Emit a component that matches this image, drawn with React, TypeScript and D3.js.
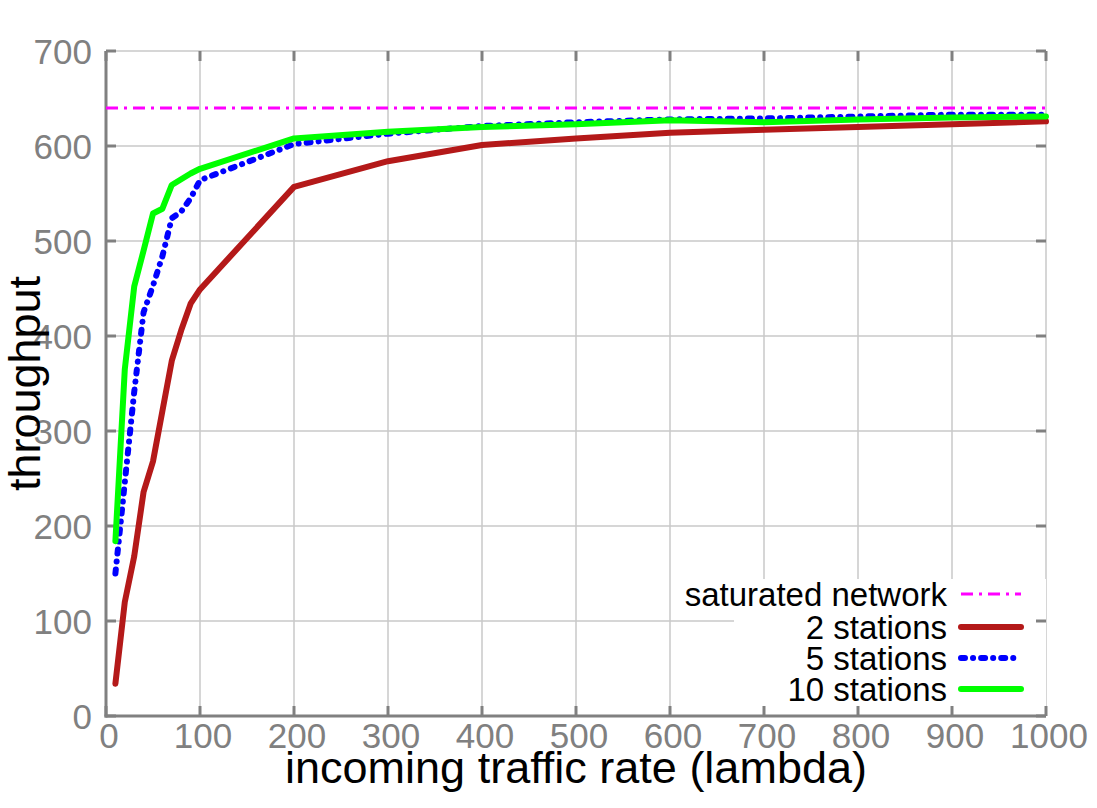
import React, { useEffect, useRef } from 'react';
import * as d3 from 'd3';

// offered load (lambda) for each measurement
const lambdas = [10, 20, 30, 40, 50, 60, 70, 80, 90, 100, 200, 300, 400, 500, 600, 700, 800, 900, 1000];

// throughput per number of stations
const twoStations = [34, 120, 168, 236, 268, 321, 374, 406, 434, 449, 557, 584, 601, 608, 614, 617, 620, 623, 626];
const fiveStations = [150, 246, 341, 425, 453, 484, 524, 531, 545, 564, 602, 613, 621, 625, 628, 629, 631, 633, 633];
const tenStations = [184, 365, 452, 490, 529, 534, 559, 565, 571, 576, 608, 615, 620, 623, 627, 625, 628, 630, 631];

const saturated = 640;

const xTicks = [0, 100, 200, 300, 400, 500, 600, 700, 800, 900, 1000];
const yTicks = [0, 100, 200, 300, 400, 500, 600, 700];

const legendLabels = ['saturated network', '2 stations', '5 stations', '10 stations'];

const FONT = '"Liberation Sans", Arial, Helvetica, sans-serif';

const Chart: React.FC = () => {
    const ref = useRef<SVGSVGElement | null>(null);

    useEffect(() => {
        if (!ref.current) return;
        const width = 1097;
        const height = 808;
        const left = 106, right = 1046, top = 51, bottom = 716;

        const svg = d3.select(ref.current);
        svg.selectAll('*').remove();
        svg.attr('width', width).attr('height', height);

        svg.append('rect').attr('width', width).attr('height', height).attr('fill', '#fff');

        const x = d3.scaleLinear().domain([0, 1000]).range([left, right]);
        const y = d3.scaleLinear().domain([0, 700]).range([bottom, top]);

        // grid
        const grid = svg.append('g').attr('stroke', '#c8c8c8').attr('stroke-width', 1.5);
        grid.selectAll('line.v')
            .data(xTicks.slice(1))
            .enter()
            .append('line')
            .attr('x1', d => x(d)).attr('x2', d => x(d))
            .attr('y1', bottom).attr('y2', top);
        grid.selectAll('line.h')
            .data(yTicks.slice(1))
            .enter()
            .append('line')
            .attr('x1', left).attr('x2', right)
            .attr('y1', d => y(d)).attr('y2', d => y(d));

        // opaque key box
        svg.append('rect')
            .attr('x', 734).attr('y', 579)
            .attr('width', right - 734).attr('height', bottom - 579)
            .attr('fill', '#fff');

        // axes lines and ticks
        const axisColor = '#808080';
        svg.append('line')
            .attr('x1', left).attr('x2', left).attr('y1', top).attr('y2', bottom + 1.5)
            .attr('stroke', axisColor).attr('stroke-width', 3);
        svg.append('line')
            .attr('x1', left - 1.5).attr('x2', right).attr('y1', bottom).attr('y2', bottom)
            .attr('stroke', axisColor).attr('stroke-width', 3);

        const ticks = svg.append('g').attr('stroke', axisColor).attr('stroke-width', 3);
        yTicks.forEach(t => {
            ticks.append('line').attr('x1', left).attr('x2', left + 10).attr('y1', y(t)).attr('y2', y(t));
            ticks.append('line').attr('x1', right - 10).attr('x2', right).attr('y1', y(t)).attr('y2', y(t));
        });
        xTicks.forEach(t => {
            ticks.append('line').attr('x1', x(t)).attr('x2', x(t)).attr('y1', bottom).attr('y2', bottom - 10);
            ticks.append('line').attr('x1', x(t)).attr('x2', x(t)).attr('y1', top).attr('y2', top + 10);
        });

        // tick labels
        svg.selectAll('text.ylab')
            .data(yTicks)
            .enter()
            .append('text')
            .attr('x', 92)
            .attr('y', d => y(d) + 12.5)
            .attr('text-anchor', 'end')
            .style('font-family', FONT)
            .style('font-size', '35px')
            .style('fill', axisColor)
            .text(d => d);
        svg.selectAll('text.xlab')
            .data(xTicks)
            .enter()
            .append('text')
            .attr('x', d => x(d) + 3)
            .attr('y', bottom + 32)
            .attr('text-anchor', 'middle')
            .style('font-family', FONT)
            .style('font-size', '35px')
            .style('fill', axisColor)
            .text(d => d);

        // axis titles
        svg.append('text')
            .attr('x', (left + right) / 2)
            .attr('y', 783)
            .attr('text-anchor', 'middle')
            .style('font-family', FONT)
            .style('font-size', '45px')
            .style('fill', '#000')
            .text('incoming traffic rate (lambda)');
        svg.append('text')
            .attr('transform', `translate(40, ${(top + bottom) / 2}) rotate(-90)`)
            .attr('text-anchor', 'middle')
            .style('font-family', FONT)
            .style('font-size', '45px')
            .style('fill', '#000')
            .text('throughput');

        // series
        const styles = [
            { color: '#ff00ff', width: 3, dash: '12 6 3 6', cap: 'butt' },
            { color: '#b41919', width: 6, dash: null, cap: 'round' },
            { color: '#0000ff', width: 6, dash: '4 8 0.1 8', cap: 'round' },
            { color: '#00ff00', width: 6, dash: null, cap: 'round' },
        ];

        const line = d3.line<[number, number]>().x(d => x(d[0])).y(d => y(d[1]));

        svg.append('path')
            .attr('d', line([[0, saturated], [1000, saturated]]))
            .attr('fill', 'none')
            .attr('stroke', styles[0].color)
            .attr('stroke-width', styles[0].width)
            .attr('stroke-dasharray', styles[0].dash);

        [twoStations, fiveStations, tenStations].forEach((vals, i) => {
            const s = styles[i + 1];
            const pts = lambdas.map((l, j) => [l, vals[j]] as [number, number]);
            const p = svg.append('path')
                .attr('d', line(pts))
                .attr('fill', 'none')
                .attr('stroke', s.color)
                .attr('stroke-width', s.width)
                .attr('stroke-linejoin', 'round')
                .attr('stroke-linecap', s.cap);
            if (s.dash) p.attr('stroke-dasharray', s.dash);
        });

        // legend
        const rowY = [594, 627, 658, 689];
        legendLabels.forEach((label, i) => {
            const s = styles[i];
            svg.append('text')
                .attr('x', 947)
                .attr('y', rowY[i] + 12)
                .attr('text-anchor', 'end')
                .style('font-family', FONT)
                .style('font-size', '33px')
                .style('fill', '#000')
                .text(label);
            const l = svg.append('line')
                .attr('x1', 961).attr('x2', 1021)
                .attr('y1', rowY[i]).attr('y2', rowY[i])
                .attr('stroke', s.color)
                .attr('stroke-width', s.width)
                .attr('stroke-linecap', s.cap);
            if (s.dash) l.attr('stroke-dasharray', s.dash);
        });
    }, []);

    return <svg ref={ref} style={{ position: 'absolute', left: 0, top: 0 }} />;
};

export default function App() {
    return <Chart />;
}
